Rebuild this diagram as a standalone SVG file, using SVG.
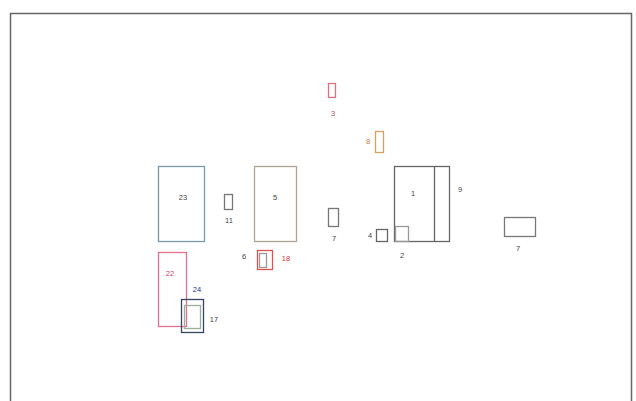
<svg xmlns="http://www.w3.org/2000/svg" width="636" height="401" viewBox="0 0 636 401">
<style>
.n{fill:none;stroke-width:1.3}
.t{font-family:"Liberation Sans",Arial,sans-serif;font-size:7.5px;text-anchor:middle;dominant-baseline:central;fill:#444}
</style>
<rect width="636" height="401" fill="#fff"/>
<rect x="10.5" y="13.5" width="621" height="400" fill="none" stroke="#666" stroke-width="1.5"/>
<g id="connectors"></g>
<g id="n23"><rect class="n" x="158.5" y="166.5" width="46" height="75" stroke="#7a98a8"/><text class="t" x="183" y="197">23</text></g>
<g id="n11"><rect class="n" x="224.5" y="194.5" width="8" height="15" stroke="#777"/><text class="t" x="229" y="220">11</text></g>
<g id="n5"><rect class="n" x="254.5" y="166.5" width="42" height="75" stroke="#b0a392"/><text class="t" x="275" y="197">5</text></g>
<g id="n7a"><rect class="n" x="328.5" y="208.5" width="10" height="18" stroke="#777"/><text class="t" x="334" y="238">7</text></g>
<g id="n3"><rect class="n" x="328.5" y="83.5" width="7" height="14" stroke="#e07080"/><text class="t" x="333" y="113" style="fill:#c05050">3</text></g>
<g id="n8"><rect class="n" x="375.5" y="131.5" width="8" height="21" stroke="#d9a060"/><text class="t" x="368" y="141" style="fill:#c08040">8</text></g>
<g id="n1"><rect class="n" x="394.5" y="166.5" width="55" height="75" stroke="#666"/><line x1="434.5" y1="166.5" x2="434.5" y2="241.5" stroke="#666" stroke-width="1.3"/><text class="t" x="413" y="193">1</text><text class="t" x="460" y="189">9</text></g>
<g id="n4"><rect class="n" x="376.5" y="229.5" width="11" height="12" stroke="#666"/><text class="t" x="370" y="235">4</text></g>
<g id="n2"><rect class="n" x="395.5" y="226.5" width="13" height="15" stroke="#999"/><text class="t" x="402" y="255">2</text></g>
<g id="n7b"><rect class="n" x="504.5" y="217.5" width="31" height="19" stroke="#777"/><text class="t" x="518" y="248">7</text></g>
<g id="n22"><rect class="n" x="158.5" y="252.5" width="28" height="74" stroke="#e07090"/><text class="t" x="170" y="273" style="fill:#d04060">22</text></g>
<g id="n24"><rect class="n" x="181.5" y="299.5" width="22" height="33" stroke="#334466" stroke-width="1.8"/><rect class="n" x="184.5" y="305.5" width="16" height="23" stroke="#9ab09a"/><text class="t" x="197" y="289" style="fill:#2030a0">24</text><text class="t" x="214" y="319">17</text></g>
<g id="n18"><rect class="n" x="257.5" y="250.5" width="15" height="19" stroke="#e05050"/><rect class="n" x="259.5" y="253.5" width="7" height="14" stroke="#999"/><text class="t" x="244" y="256">6</text><text class="t" x="286" y="258" style="fill:#e03030">18</text></g>
</svg>
